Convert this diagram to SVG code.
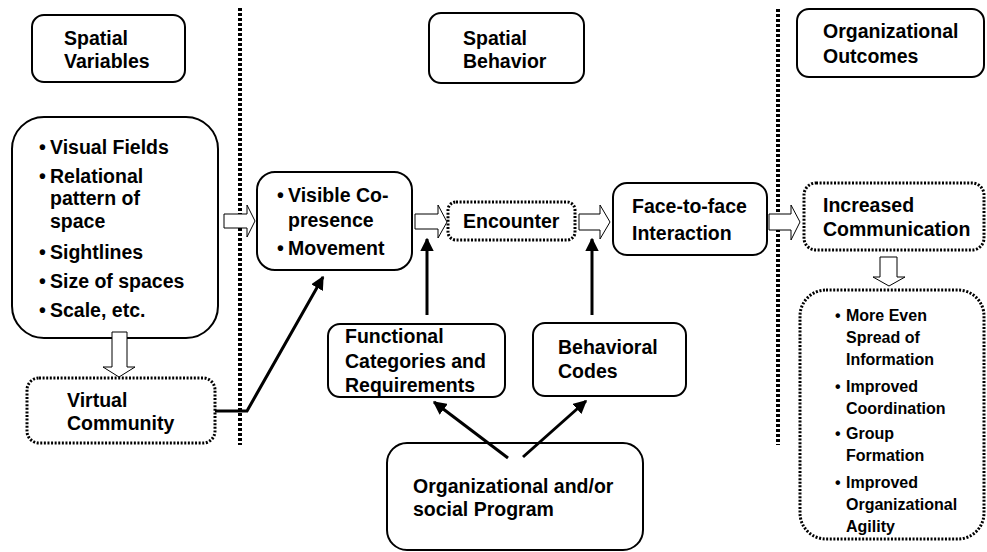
<svg xmlns="http://www.w3.org/2000/svg" width="987" height="552" viewBox="0 0 987 552">
<style>
text{font-family:"Liberation Sans",Arial,sans-serif;font-weight:bold;font-size:19.5px;fill:#000}
.sm{font-size:16px}
.box{fill:#fff;stroke:#000;stroke-width:2}
.dbox{fill:#fff;stroke:#000;stroke-width:3;stroke-dasharray:2 1.6}
.div{stroke:#000;stroke-width:4;stroke-dasharray:3 2;fill:none}
.blk{fill:#fff;stroke:#000;stroke-width:1}
.con{stroke:#000;stroke-width:3;fill:none}
</style>
<defs>
<marker id="ah" viewBox="0 0 10 10" refX="9" refY="5" markerWidth="4.5" markerHeight="4.5" orient="auto" markerUnits="strokeWidth">
<path d="M0,0 L10,5 L0,10 z" fill="#000"/>
</marker>
</defs>

<g id="dividers">
<line class="div" x1="240" y1="8" x2="240" y2="445"/>
<line class="div" x1="778" y1="9" x2="778" y2="445"/>
</g>

<g id="hdr-spatial-variables">
<rect class="box" x="32" y="15" width="153" height="67" rx="12"/>
<text x="64" y="45">Spatial</text>
<text x="64" y="68">Variables</text>
</g>
<g id="hdr-spatial-behavior">
<rect class="box" x="429" y="13" width="155" height="70" rx="12"/>
<text x="463" y="45">Spatial</text>
<text x="463" y="68">Behavior</text>
</g>
<g id="hdr-org-outcomes">
<rect class="box" x="797" y="9" width="187" height="68" rx="12"/>
<text x="823" y="38">Organizational</text>
<text x="823" y="63">Outcomes</text>
</g>

<g id="spatial-variables">
<rect class="box" x="12" y="117" width="206" height="221" rx="32"/>
<text x="39" y="154">•</text><text x="50" y="154">Visual Fields</text>
<text x="39" y="183">•</text><text x="50" y="183">Relational</text>
<text x="50" y="205">pattern of</text>
<text x="50" y="228">space</text>
<text x="39" y="259">•</text><text x="50" y="259">Sightlines</text>
<text x="39" y="288">•</text><text x="50" y="288">Size of spaces</text>
<text x="39" y="317">•</text><text x="50" y="317">Scale, etc.</text>
</g>

<g id="virtual-community">
<rect class="dbox" x="27" y="378" width="188" height="65" rx="12"/>
<text x="67" y="407">Virtual</text>
<text x="67" y="430">Community</text>
</g>

<g id="visible-copresence">
<rect class="box" x="257" y="172" width="155" height="98" rx="18"/>
<text x="277" y="202">•</text><text x="288" y="202">Visible Co-</text>
<text x="288" y="227">presence</text>
<text x="277" y="255">•</text><text x="288" y="255">Movement</text>
</g>

<g id="encounter">
<rect class="dbox" x="448" y="202" width="127" height="38" rx="8"/>
<text x="463" y="228">Encounter</text>
</g>

<g id="face-to-face">
<rect class="box" x="613" y="183" width="154" height="72" rx="14"/>
<text x="632" y="213">Face-to-face</text>
<text x="632" y="240">Interaction</text>
</g>

<g id="increased-communication">
<rect class="dbox" x="804" y="183" width="180" height="67" rx="12"/>
<text x="823" y="212">Increased</text>
<text x="823" y="236">Communication</text>
</g>

<g id="outcomes-list">
<rect class="dbox" x="800" y="290" width="184" height="249" rx="26"/>
<text class="sm" x="835" y="321">•</text><text class="sm" x="846" y="321">More Even</text>
<text class="sm" x="846" y="343">Spread of</text>
<text class="sm" x="846" y="365">Information</text>
<text class="sm" x="835" y="392">•</text><text class="sm" x="846" y="392">Improved</text>
<text class="sm" x="846" y="414">Coordination</text>
<text class="sm" x="835" y="439">•</text><text class="sm" x="846" y="439">Group</text>
<text class="sm" x="846" y="461">Formation</text>
<text class="sm" x="835" y="488">•</text><text class="sm" x="846" y="488">Improved</text>
<text class="sm" x="846" y="510">Organizational</text>
<text class="sm" x="846" y="532">Agility</text>
</g>

<g id="functional-categories">
<rect class="box" x="328" y="324" width="177" height="73" rx="12"/>
<text x="345" y="343">Functional</text>
<text x="345" y="368">Categories and</text>
<text x="345" y="392">Requirements</text>
</g>

<g id="behavioral-codes">
<rect class="box" x="533" y="323" width="153" height="73" rx="12"/>
<text x="558" y="354">Behavioral</text>
<text x="558" y="378">Codes</text>
</g>

<g id="org-program">
<rect class="box" x="387" y="443" width="256" height="107" rx="20"/>
<text x="413" y="493">Organizational and/or</text>
<text x="413" y="516">social Program</text>
</g>

<g id="connectors">
<polygon class="blk" points="224,214 247,214 247,205 255,221 247,237 247,228 224,228"/>
<polygon class="blk" points="415,214 438,214 438,205 447,222 438,238 438,229 415,229"/>
<polygon class="blk" points="579,214 600,214 600,205 610,222 600,239 600,230 579,230"/>
<polygon class="blk" points="769,214 791,214 791,205 800,222 791,240 791,230 769,230"/>
<polygon class="blk" points="112,332 127,332 127,367 135,367 119,377 103,367 112,367"/>
<polygon class="blk" points="880,257 897,257 897,277 905,277 889,286 873,277 880,277"/>
<polyline class="con" points="215,411 247,411 323,277" marker-end="url(#ah)"/>
<line class="con" x1="427" y1="315" x2="427" y2="239" marker-end="url(#ah)"/>
<line class="con" x1="592" y1="315" x2="592" y2="239" marker-end="url(#ah)"/>
<line class="con" x1="508" y1="458" x2="434" y2="402" marker-end="url(#ah)"/>
<line class="con" x1="523" y1="457" x2="586" y2="401" marker-end="url(#ah)"/>
</g>
</svg>
